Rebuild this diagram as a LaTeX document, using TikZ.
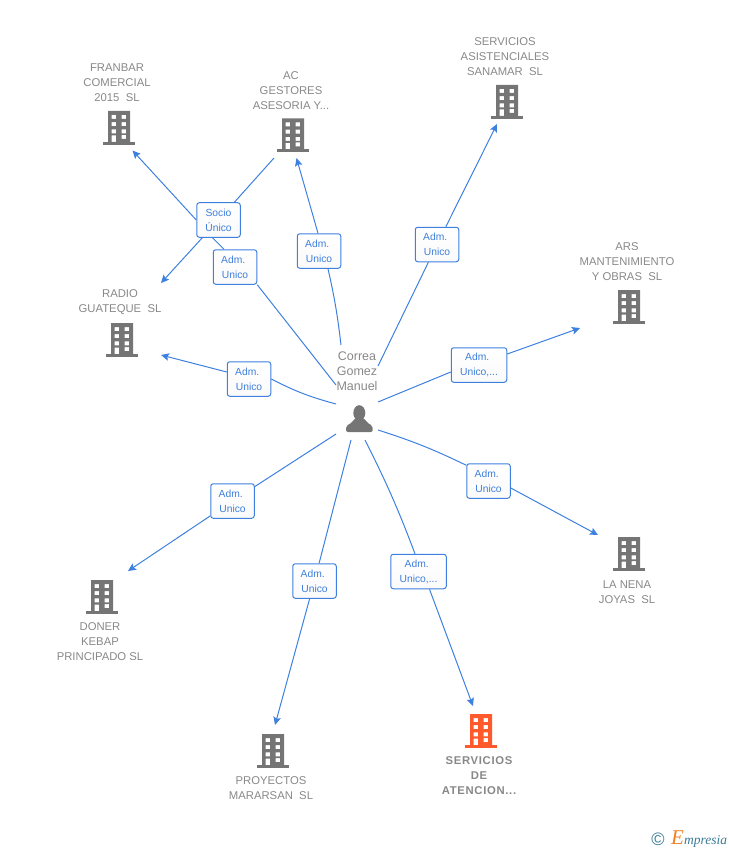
\documentclass[tikz,border=0pt]{standalone}
\usepackage{fontspec}
\setmainfont{Liberation Sans}
\newfontfamily\logofont{Liberation Serif}
\usetikzlibrary{arrows.meta}
\definecolor{edgeblue}{HTML}{3D80E0}
\definecolor{labelblue}{HTML}{3F7FDC}
\definecolor{namegray}{HTML}{888888}
\definecolor{iconTone}{HTML}{757575}
\definecolor{hot}{HTML}{FF5A2C}
\definecolor{logoteal}{HTML}{3A7A96}
\definecolor{logoorange}{HTML}{F08020}
\newcommand{\admline}{Adm.\hspace*{3.5pt}}
\tikzset{
  x=1pt,y=-1pt,
  conn/.style={draw=edgeblue,line width=1pt},
  arrowconn/.style={conn,-{Stealth[length=8pt,width=7.5pt,inset=1.5pt]}},
  edgetag/.style={draw=edgeblue,line width=1pt,rounded corners=2.5pt,top color=white,bottom color=black!2,
    text=labelblue,align=center,inner sep=0pt,minimum width=43.5pt,minimum height=34.5pt,
    font=\fontsize{10.3}{15}\selectfont},
  widetag/.style={edgetag,minimum width=55.5pt},
  cname/.style={text=namegray,align=center,inner sep=0pt,yshift=-0.7pt,font=\fontsize{11.3}{15}\selectfont},
  boldname/.style={cname,font=\fontsize{11.3}{15}\selectfont\bfseries\addfontfeature{LetterSpace=6}},
  pics/building/.style={code={
    \fill[#1,even odd rule]
      (-11,-17) rectangle (11,14)
      (-7.3,-13) rectangle (-2.8,-9)
      (2.7,-13) rectangle (7.2,-9)
      (-7.3,-5.8) rectangle (-2.8,-1.8)
      (2.7,-5.8) rectangle (7.2,-1.8)
      (-7.3,1.3) rectangle (-2.8,5.3)
      (2.7,1.3) rectangle (7.2,5.3)
      (-7.3,7.5) rectangle (-2.8,14)
      (2.7,7) rectangle (7.2,11);
    \fill[#1] (-16,14) rectangle (16,17);
  }},
}
\begin{document}
\begin{tikzpicture}
\useasboundingbox (0,0) rectangle (728,850);
% buildings
\pic at (119,128) {building=iconTone};
\pic at (293,135.5) {building=iconTone};
\pic at (507,102) {building=iconTone};
\pic at (629,307) {building=iconTone};
\pic at (629,554) {building=iconTone};
\pic at (481,731) {building=hot};
\pic at (273,751) {building=iconTone};
\pic at (102,597) {building=iconTone};
\pic at (122,340) {building=iconTone};
% names
\node[cname] (nFranbar) at (117,82) {FRANBAR\\COMERCIAL\\2015\ \ SL};
\node[cname] (nAC) at (291,90) {AC\\GESTORES\\ASESORIA Y...};
\node[cname] (nAsist) at (505,56) {SERVICIOS\\ASISTENCIALES\\SANAMAR\ \ SL};
\node[cname] (nArs) at (627,261) {ARS\\MANTENIMIENTO\\Y OBRAS\ \ SL};
\node[cname] (nRadio) at (120,301.5) {RADIO\\GUATEQUE\ \ SL};
\node[cname] (nNena) at (627,591.5) {LA NENA\\JOYAS\ \ SL};
\node[cname] (nDoner) at (100,641) {DONER\\KEBAP\\PRINCIPADO SL};
\node[cname] (nProy) at (271,787.5) {PROYECTOS\\MARARSAN\ \ SL};
\node[boldname] (nAten) at (479,775) {SERVICIOS\\DE\\ATENCION...};
\node[cname,yshift=0.7pt,font=\fontsize{12.5}{15}\selectfont] (nPerson) at (357,371) {Correa\\Gomez\\Manuel};
% person
\fill[iconTone] (359.3,413) ellipse (6 and 7.8);
\fill[iconTone,rounded corners=2pt] (346,432) -- (346,426) -- (352,422.5) -- (355,418) -- (364,418) -- (367,422.5) -- (372.7,426) -- (372.7,432) -- cycle;
% labels
\node[edgetag] (lSocio) at (218.5,220) {Socio\\Único};
\node[edgetag] (lFranbar) at (235,267) {\admline\\Unico};
\node[edgetag] (lAC) at (319,251) {\admline\\Unico};
\node[edgetag] (lAsist) at (437,244.5) {\admline\\Unico};
\node[widetag] (lArs) at (479,365) {\admline\\Unico,...};
\node[edgetag] (lNena) at (488.5,481) {\admline\\Unico};
\node[widetag] (lAten) at (418.5,571.5) {\admline\\Unico,...};
\node[edgetag] (lProy) at (314.5,581) {\admline\\Unico};
\node[edgetag] (lDoner) at (232.5,501) {\admline\\Unico};
\node[edgetag] (lRadio) at (249,379) {\admline\\Unico};
% free ends
\coordinate (sAC) at (341,345);
\coordinate (tAC) at (296.5,158);
\coordinate (sAsist) at (378,366);
\coordinate (tAsist) at (497,124);
\coordinate (sArs) at (378,402);
\coordinate (tArs) at (580,328);
\coordinate (sNena) at (378,430);
\coordinate (tNena) at (598,535);
\coordinate (sAten) at (365,440);
\coordinate (tAten) at (473,706);
\coordinate (sProy) at (351,440);
\coordinate (tProy) at (275,725);
\coordinate (sDoner) at (336,434);
\coordinate (tDoner) at (128,571);
\coordinate (sRadio) at (336,404);
\coordinate (tRadio) at (161,355);
\coordinate (sFranbar) at (336,385);
\coordinate (tFranbar) at (132.5,150.5);
\coordinate (sSocio) at (274,158);
\coordinate (tSocio) at (161,283);
% connectors
\draw[conn] (sAC) to[bend right=3] ([xshift=9pt]lAC.south);
\draw[arrowconn] ([xshift=-1pt]lAC.north) -- (tAC);
\draw[conn] (sAsist) -- (lAsist);
\draw[arrowconn] (lAsist) -- (tAsist);
\draw[conn] (sArs) -- ([yshift=-7pt]lArs.west);
\draw[arrowconn] ([yshift=11pt]lArs.east) -- (tArs);
\draw[conn] (sNena) to[bend left=4] ([yshift=-2pt]lNena.north west);
\draw[arrowconn] ([yshift=-7pt]lNena.east) -- (tNena);
\draw[conn] (sAten) to[bend left=3] ([xshift=-3.5pt]lAten.north);
\draw[arrowconn] ([xshift=11pt]lAten.south) -- (tAten);
\draw[conn] (sProy) -- (lProy);
\draw[arrowconn] (lProy) -- (tProy);
\draw[conn] (sDoner) -- (lDoner);
\draw[arrowconn] (lDoner) -- (tDoner);
\draw[conn] (sRadio) to[bend left=6] (lRadio.east);
\draw[arrowconn] ([yshift=7pt]lRadio.west) -- (tRadio);
\draw[conn] (sFranbar) -- (lFranbar.south east);
\draw[conn] ([xshift=-11pt]lFranbar.north) -- ([xshift=-6pt]lSocio.south);
\draw[arrowconn] (lSocio.west) -- (tFranbar);
\draw[conn] (sSocio) -- (lSocio);
\draw[arrowconn] (lSocio) -- (tSocio);
% logo
\node[inner sep=0pt,text=logoteal,font=\fontsize{18}{18}\selectfont] (logoC) at (658,839.5) {\char"00A9};
\node[inner sep=0pt,anchor=base west,font=\logofont\itshape\fontsize{13.5}{14}\selectfont,text=logoteal] (logoT) at (671,844)
  {{\color{logoorange}\fontsize{21}{21}\selectfont E}mpresia};
\end{tikzpicture}
\end{document}
